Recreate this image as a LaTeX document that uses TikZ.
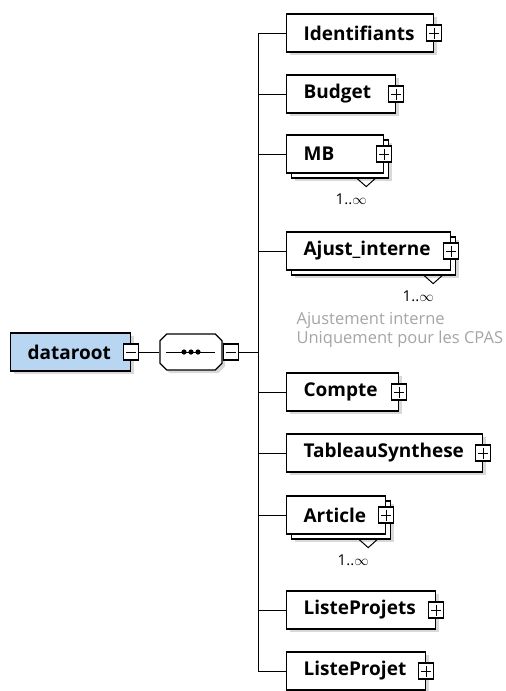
\documentclass[tikz,border=0pt]{standalone}
\usepackage{fontspec}
\setmainfont{Open Sans}
\usetikzlibrary{positioning, shapes, shapes.misc, shadows}
\definecolor{root_blue}{RGB}{184,214,242}
\definecolor{note_gray}{RGB}{165,165,165}

\begin{document}
\begin{tikzpicture}[x=1pt, y=-1pt]
	\tikzset{
		line width=1.2pt, % all lines of the schema
		every node/.style={line width=1.2pt},
		shade/.style={drop shadow={shadow xshift=3pt, shadow yshift=-3pt, fill=black!25, opacity=.6}}, % soft grey shadow
	}
	\tikzstyle{box} = [draw, fill=white, anchor=west, minimum height=38pt, inner xsep=17pt, align=left, font=\bfseries\fontsize{19}{21}\selectfont]
	\tikzstyle{elem} = [box, shade]
	\tikzstyle{many} = [box, drop shadow={shadow xshift=8pt, shadow yshift=-8pt, fill=black!25, opacity=.6}, copy shadow={shadow xshift=5pt, shadow yshift=-5pt}]
	\tikzstyle{sign} = [draw, fill=white, minimum width=15pt, minimum height=16pt, inner sep=0pt]
	\tikzstyle{expand} = [sign, path picture={
		\draw[line width=1pt] ([xshift=2.5pt]path picture bounding box.west) -- ([xshift=-2.5pt]path picture bounding box.east);
		\draw[line width=1pt] ([yshift=-2.5pt]path picture bounding box.north) -- ([yshift=2.5pt]path picture bounding box.south);}]
	\tikzstyle{collapse} = [sign, path picture={
		\draw[line width=1pt] ([xshift=2.5pt]path picture bounding box.west) -- ([xshift=-2.5pt]path picture bounding box.east);}]
	\tikzstyle{mult} = [font=\fontsize{15}{17}\selectfont]
	\tikzstyle{note} = [text=note_gray, align=left, anchor=north west, inner sep=0pt, font=\fontsize{16.5}{19}\selectfont]

	\useasboundingbox (0,0) rectangle (506,691);

	% root and sequence
	\node[elem, fill=root_blue, text width=86pt] (root) at (10,352) {dataroot};
	\node[collapse] (rm) at (root.east) {};
	\node[draw, fill=white, chamfered rectangle, chamfered rectangle xsep=8pt, minimum width=62pt, minimum height=36pt, shade] (seq) at (191,352) {};
	\node[collapse, right=0pt of seq] (sm) {};
	\draw ([xshift=7pt]seq.west) -- ([xshift=-8pt]seq.east);
	\foreach \dx in {-7,0,7}
		\fill ([xshift=\dx pt]seq.center) circle (2.6pt);

	% children
	\node[elem, text width=113pt] (1) at (286,33) {Identifiants};
	\node[elem, text width=75pt] (2) at (286,94) {Budget};
	\node[many, text width=63pt] (3) at (286,154) {MB};
	\node[many, text width=130pt] (4) at (286,251) {Ajust\_interne};
	\node[elem, text width=78pt] (5) at (286,392) {Compte};
	\node[elem, text width=162pt] (6) at (286,453) {TableauSynthese};
	\node[many, text width=65pt] (7) at (286,515) {Article};
	\node[elem, text width=115pt] (8) at (286,610) {ListeProjets};
	\node[elem, text width=105pt] (9) at (286,671) {ListeProjet};
	\foreach \i in {1,...,9}
		\node[expand] (p\i) at (\i.east) {};

	% occurrences
	\foreach \i in {3,4,7} {
		\draw[line width=1pt] ([shift={(-27,5)}]\i.south east) -- ++(9,8) -- ++(9,-8);
		\node[mult] (m\i) at ([shift={(-33,26)}]\i.south east) {1..$\infty$};
	}
	\node[note] (n4) at (296,312) {Ajustement interne\\Uniquement pour les CPAS};

	% connectors
	\coordinate (top) at (258,33);
	\coordinate (bottom) at (258,671);
	\draw (top) -- (bottom);
	\draw (rm) -- (seq);
	\draw (sm.east) -- (sm.east -| top);
	\foreach \i in {1,...,9}
		\draw (\i.west -| top) -- (\i.west);
\end{tikzpicture}
\end{document}
